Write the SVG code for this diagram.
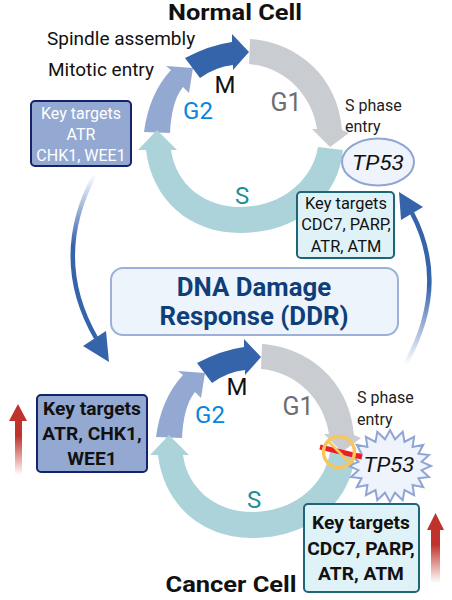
<svg xmlns="http://www.w3.org/2000/svg" width="452" height="600" viewBox="0 0 452 600">
<style>
text{font-family:Roboto,"Liberation Sans",sans-serif;text-anchor:middle;fill:#111}
.l{text-anchor:start;font-size:19px}
.k{font-size:16px}
.kr{font-size:16.4px}
.kb{font-size:19.2px;font-weight:700}
.ph{font-size:24px}
.s{font-size:16px;text-anchor:start;fill:#222}
.t{font-size:21px;font-style:italic}
.ti{font-size:21.5px;font-weight:700}
.ddr{font-size:25.8px;font-weight:700;fill:#0f3f7a}
.box1{fill:#94a9d1;stroke:#14236b;stroke-width:2}
.box2{fill:#dff2f7;stroke:#1d6577;stroke-width:2}
.tp{fill:#eef3fc;stroke:#8fa5d3;stroke-width:2}
.long{fill:none;stroke-width:4.5}
</style>
<defs>
<linearGradient id="gl" gradientUnits="userSpaceOnUse" x1="0" y1="174" x2="0" y2="245"><stop offset="0" stop-color="#3664ab" stop-opacity="0"/><stop offset="1" stop-color="#3664ab"/></linearGradient>
<linearGradient id="gr" gradientUnits="userSpaceOnUse" x1="0" y1="365" x2="0" y2="285"><stop offset="0" stop-color="#3664ab" stop-opacity="0"/><stop offset="1" stop-color="#3664ab"/></linearGradient>
<linearGradient id="gra" x1="0" y1="1" x2="0" y2="0"><stop offset="0" stop-color="#c0332c" stop-opacity="0"/><stop offset=".55" stop-color="#c0332c"/></linearGradient>
<path id="pS" fill="#acd3da" d="M343,150C338,200 296,233 240,233C190,233 152,200 146,150L138,150L157,130L177,150L171,150C176,185 205,207 240,207C280,207 312,182 318,147Z"/>
<path id="pG1" fill="#c9ccd0" d="M250,39C295,42 338,75 342,130L349,133L330,147L312,129L317,129C312,95 285,67 249,64Z"/>
<path id="pG2" fill="#94a9d1" d="M144,132C147,108 156,86 171,70L166,66L193,68L189,93L183,87C174,98 171,115 170,133Z"/>
<path id="pM" fill="#3664ab" d="M185,58Q210,45 232,42L232,34L249,52L233,70L233,65Q215,67 200,78Z"/>
</defs>
<g id="connectors">
<path class="long" stroke="url(#gl)" d="M95,174Q50,258 96,338"/>
<polygon fill="#3664ab" points="83,346 106,331 109,362"/>
<path class="long" stroke="url(#gr)" d="M405,365Q450,285 412,213"/>
<polygon fill="#3664ab" points="399,192 423,207 401,220"/>
</g>
<g id="normal-cycle">
<use href="#pG2"/><use href="#pS"/><use href="#pM"/><use href="#pG1"/>
<text class="ph" x="242" y="204" style="fill:#1f8f96">S</text>
<text class="ph" x="286" y="111" style="fill:#6d6e70;font-size:25px">G1</text>
<text class="ph" x="198" y="119" style="fill:#0a84dc">G2</text>
<text class="ph" x="225" y="93">M</text>
</g>
<g id="cancer-cycle">
<g transform="translate(12,305)"><use href="#pG2"/><use href="#pS"/><use href="#pM"/><use href="#pG1"/></g>
<text class="ph" x="254" y="508" style="fill:#1f8f96">S</text>
<text class="ph" x="298" y="415" style="fill:#6d6e70;font-size:25px">G1</text>
<text class="ph" x="210" y="423" style="fill:#0a84dc">G2</text>
<text class="ph" x="237" y="395">M</text>
</g>
<g id="title-normal"><text class="ti" x="235" y="20" textLength="134" lengthAdjust="spacingAndGlyphs">Normal Cell</text></g>
<g id="title-cancer"><text class="ti" x="231" y="592" textLength="131" lengthAdjust="spacingAndGlyphs">Cancer Cell</text></g>
<g id="label-spindle"><text class="l" x="47" y="45">Spindle assembly</text></g>
<g id="label-mitotic"><text class="l" x="48" y="76">Mitotic entry</text></g>
<g id="label-sphase-normal"><text class="s" x="345" y="111">S phase</text><text class="s" x="345" y="132">entry</text></g>
<g id="label-sphase-cancer"><text class="s" x="357" y="403">S phase</text><text class="s" x="357" y="425">entry</text></g>
<g id="targets-g2-normal">
<rect class="box1" x="31" y="101" width="100" height="65" rx="4"/>
<text class="k" x="81" y="119" style="fill:#fff">Key targets</text>
<text class="k" x="81" y="140" style="fill:#fff">ATR</text>
<text class="k" x="81" y="161" style="fill:#fff">CHK1, WEE1</text>
</g>
<g id="tp53-normal">
<ellipse class="tp" cx="378" cy="162" rx="36" ry="23.5"/>
<text class="t" x="378" y="170" textLength="52" lengthAdjust="spacingAndGlyphs">TP53</text>
</g>
<g id="targets-s-normal">
<rect class="box2" x="297" y="192" width="97" height="66" rx="4"/>
<text class="kr" x="346" y="209">Key targets</text>
<text class="kr" x="346" y="230">CDC7, PARP,</text>
<text class="kr" x="346" y="252">ATR, ATM</text>
</g>
<g id="ddr">
<rect x="111" y="268" width="287" height="67" rx="12" fill="#eef4fc" stroke="#9db0d9" stroke-width="2"/>
<text class="ddr" x="254" y="296">DNA Damage</text>
<text class="ddr" x="254" y="325">Response (DDR)</text>
</g>
<g id="targets-g2-cancer">
<rect class="box1" x="37" y="395" width="110" height="77" rx="4"/>
<text class="kb" x="92" y="415">Key targets</text>
<text class="kb" x="92" y="440">ATR, CHK1,</text>
<text class="kb" x="92" y="465">WEE1</text>
</g>
<g id="tp53-cancer">
<polygon class="tp" points="431,466 421.6,461.8 429,454.9 418.5,453.7 423.2,444.8 412.6,446.9 414.1,436.9 404.5,441.9 402.7,431.8 395,439.3 390,430 385,439.3 377.3,431.8 375.5,441.9 365.9,436.9 367.4,446.9 356.8,444.8 361.5,453.7 351,454.9 358.4,461.8 349,466 358.4,470.2 351,477.1 361.5,478.3 356.8,487.2 367.4,485.1 365.9,495.1 375.5,490.1 377.3,500.2 385,492.7 390,502 395,492.7 402.7,500.2 404.5,490.1 414.1,495.1 412.6,485.1 423.2,487.2 418.5,478.3 429,477.1 421.6,470.2"/>
<text class="t" x="389" y="472" textLength="51" lengthAdjust="spacingAndGlyphs">TP53</text>
</g>
<g id="block">
<path d="M320,447L362,457" stroke="#ee1c25" stroke-width="5" fill="none"/>
<circle cx="339" cy="452" r="15.5" fill="none" stroke="#f7c65c" stroke-width="3.5"/>
<path d="M328,441L350,463" stroke="#f7c65c" stroke-width="2.5" fill="none"/>
</g>
<g id="targets-s-cancer">
<rect class="box2" x="304" y="504" width="115" height="88" rx="4"/>
<text class="kb" x="361" y="529">Key targets</text>
<text class="kb" x="361" y="555">CDC7, PARP,</text>
<text class="kb" x="361" y="580">ATR, ATM</text>
</g>
<g id="up-arrow-left">
<path fill="url(#gra)" d="M18,404L27,421H22V475H15V421H9Z"/>
</g>
<g id="up-arrow-right">
<path fill="url(#gra)" d="M435.500,513L444,530H440V583H431V530H427Z"/>
</g>
</svg>
